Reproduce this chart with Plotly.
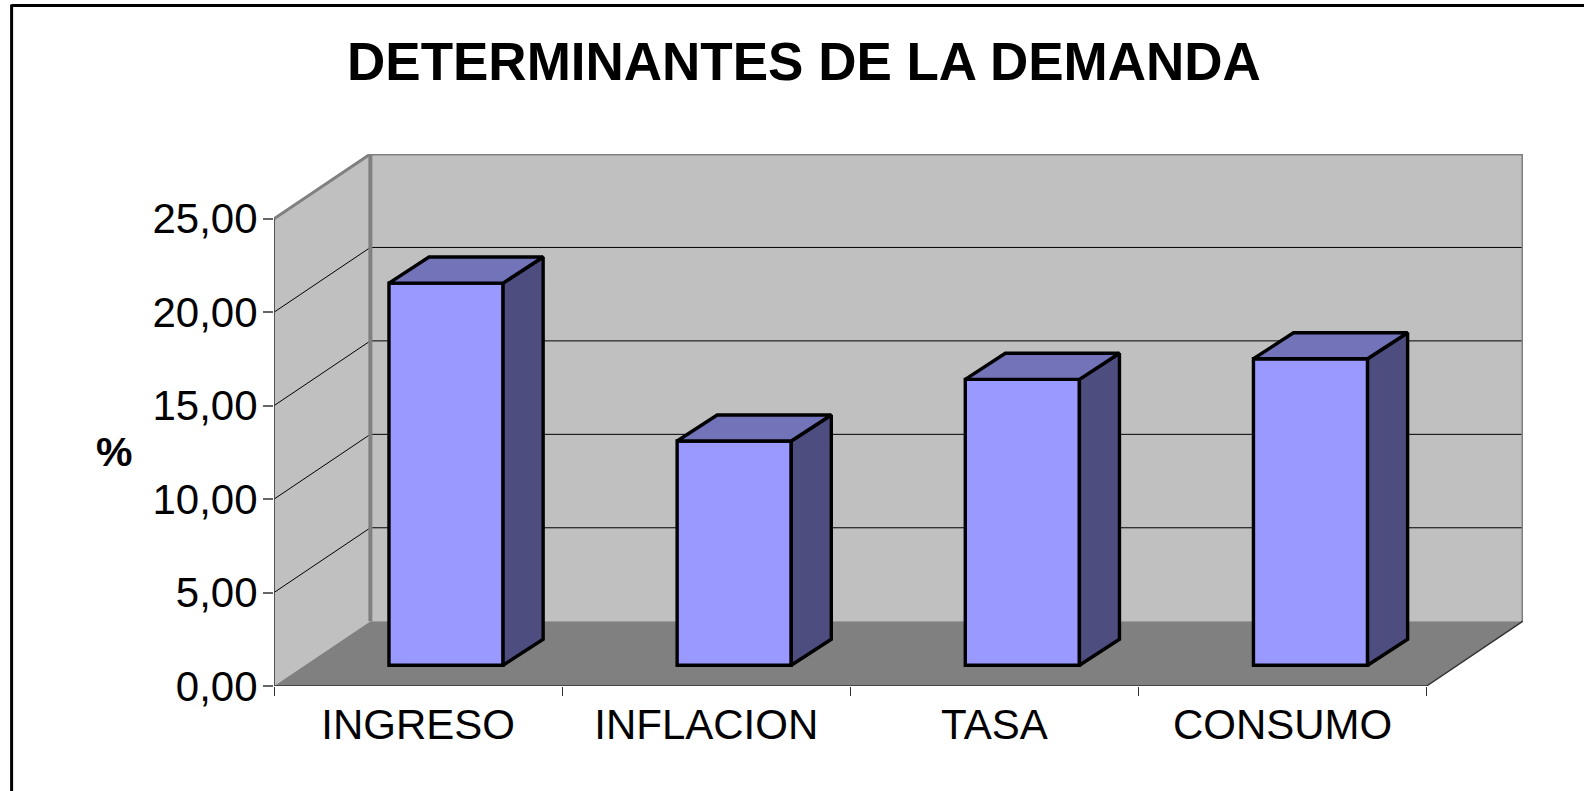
import plotly.graph_objects as go

# ---- data ----
categories = ["INGRESO", "INFLACION", "TASA", "CONSUMO"]
values = [20.45, 12.0, 15.3, 16.4]
y_tick_values = [0, 5, 10, 15, 20, 25]
y_tick_labels = ["0,00", "5,00", "10,00", "15,00", "20,00", "25,00"]
title_text = "DETERMINANTES DE LA DEMANDA"
y_title_text = "%"

# ---- oblique 3D projection, in axis units ----
DEPTH_X = 0.3344      # box depth, category units
DEPTH_Y = 3.466       # box depth, value units
BAR_W = 0.396
BAR_DX = 0.139        # bar depth
BAR_DY = 1.393
BAR_OFFSET = 0.097    # front face shift from category centre
BAR_BASE = 1.109      # front face base above floor front

WALL = "#C0C0C0"
FLOOR = "#808080"
EDGE = "#808080"
FRONT = "#9999FF"
TOP = "#7373BA"
SIDE = "#4D4D80"
FONT = "Liberation Sans"
OUTLINE = 3.4

W, H = 1584, 791
L, T, R, B = 273.5, 154.3, 1523.0, 685.7

n = len(categories)
ymax = y_tick_values[-1]
shapes = []


def poly(xs, ys):
    return "M" + " L".join(f"{x},{y}" for x, y in zip(xs, ys)) + " Z"


def add_face(xs, ys, color):
    shapes.append(dict(type="path", xref="x", yref="y", layer="below", path=poly(xs, ys),
                       fillcolor=color, line=dict(width=0)))


def add_grid(x0, y0, x1, y1):
    shapes.append(dict(type="line", xref="x", yref="y", layer="below", x0=x0, y0=y0, x1=x1, y1=y1,
                       line=dict(color="#000000", width=1)))


# walls and floor
add_face([0, DEPTH_X, DEPTH_X, 0], [0, DEPTH_Y, ymax + DEPTH_Y, ymax], WALL)
add_face([DEPTH_X, n + DEPTH_X, n + DEPTH_X, DEPTH_X],
         [DEPTH_Y, DEPTH_Y, ymax + DEPTH_Y, ymax + DEPTH_Y], WALL)
add_face([0, n, n + DEPTH_X, DEPTH_X], [0, 0, DEPTH_Y, DEPTH_Y], FLOOR)
for v in y_tick_values[1:-1]:
    add_grid(0, v, DEPTH_X, v + DEPTH_Y)
    add_grid(DEPTH_X, v + DEPTH_Y, n + DEPTH_X, v + DEPTH_Y)

fig = go.Figure()

# front faces
fig.add_trace(go.Bar(
    x=[i + 0.5 + BAR_OFFSET for i in range(n)],
    y=values, base=[BAR_BASE] * n, width=BAR_W,
    marker=dict(color=FRONT, line=dict(color="#000000", width=OUTLINE)),
    hoverinfo="skip", showlegend=False,
))


def add_line(xs, ys, color, width):
    fig.add_trace(go.Scatter(x=xs, y=ys, mode="lines", line=dict(color=color, width=width),
                             cliponaxis=False, hoverinfo="skip", showlegend=False))


# box edges
add_line([DEPTH_X, DEPTH_X], [DEPTH_Y, ymax + DEPTH_Y], EDGE, 4)
add_line([0, DEPTH_X, n + DEPTH_X, n + DEPTH_X],
         [ymax, ymax + DEPTH_Y, ymax + DEPTH_Y, DEPTH_Y], EDGE, 3)
add_line([0, 0], [0, ymax], "#333333", 1.5)
add_line([0, n, n + DEPTH_X], [0, 0, DEPTH_Y], "#333333", 1.5)

# bar top and side faces
for i, v in enumerate(values):
    x0 = i + 0.5 + BAR_OFFSET - BAR_W / 2
    x1 = x0 + BAR_W
    y0 = BAR_BASE
    y1 = BAR_BASE + v
    fig.add_trace(go.Scatter(
        x=[x1, x1 + BAR_DX, x1 + BAR_DX, x1, x1], y=[y0, y0 + BAR_DY, y1 + BAR_DY, y1, y0],
        mode="lines", fill="toself", fillcolor=SIDE, line=dict(color="#000000", width=OUTLINE),
        cliponaxis=False, hoverinfo="skip", showlegend=False))
    fig.add_trace(go.Scatter(
        x=[x0, x1, x1 + BAR_DX, x0 + BAR_DX, x0], y=[y1, y1, y1 + BAR_DY, y1 + BAR_DY, y1],
        mode="lines", fill="toself", fillcolor=TOP, line=dict(color="#000000", width=OUTLINE),
        cliponaxis=False, hoverinfo="skip", showlegend=False))

# outer frame (only top and left edges are visible in the picture)
shapes.append(dict(type="line", xref="paper", yref="paper",
                   x0=(11 - L) / (R - L), x1=(W + 5 - L) / (R - L),
                   y0=(B - 6) / (B - T), y1=(B - 6) / (B - T),
                   line=dict(color="#000000", width=3)))
shapes.append(dict(type="line", xref="paper", yref="paper",
                   x0=(11 - L) / (R - L), x1=(11 - L) / (R - L),
                   y0=(B - 5) / (B - T), y1=(B - H - 5) / (B - T),
                   line=dict(color="#000000", width=3)))

fig.update_layout(
    width=W, height=H, margin=dict(l=L, r=W - R, t=T, b=H - B, pad=0),
    paper_bgcolor="#FFFFFF", plot_bgcolor="rgba(0,0,0,0)",
    showlegend=False, barmode="overlay", shapes=shapes,
    font=dict(family=FONT, color="#000000"),
    xaxis=dict(range=[0, n + DEPTH_X], showgrid=False, zeroline=False, showline=False,
               tickmode="array", tickvals=[i + 0.5 for i in range(n)], ticktext=categories,
               ticks="", tickfont=dict(family=FONT, size=42, color="#000000"),
               ticklabelstandoff=10,
               minor=dict(tickmode="array", tickvals=list(range(n + 1)), ticks="outside",
                          ticklen=9, tickwidth=1, tickcolor="#333333", showgrid=False)),
    yaxis=dict(range=[0, ymax + DEPTH_Y], showgrid=False, zeroline=False, showline=False,
               tickmode="array", tickvals=y_tick_values, ticktext=y_tick_labels,
               ticks="outside", ticklen=10, tickwidth=1.5, tickcolor="#666666",
               ticklabelstandoff=-3,
               tickfont=dict(family=FONT, size=42, color="#000000")),
    annotations=[
        dict(xref="paper", yref="paper", x=(803.7 - L) / (R - L), y=(B - 61.7) / (B - T),
             xanchor="center", yanchor="middle", showarrow=False, text=f"<b>{title_text}</b>",
             font=dict(family=FONT, size=53, color="#000000")),
        dict(xref="paper", yref="paper", x=(113 - L) / (R - L), y=(B - 452) / (B - T),
             xanchor="center", yanchor="middle", showarrow=False, text=f"<b>{y_title_text}</b>",
             font=dict(family=FONT, size=41, color="#000000")),
    ],
)

fig.write_html("out.html", config=dict(displayModeBar=False),
               post_script="document.body.style.margin='0';document.body.style.overflow='hidden';")
